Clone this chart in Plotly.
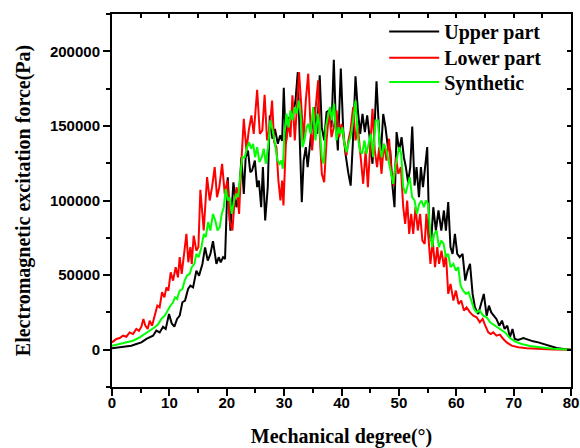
import plotly.graph_objects as go

# ---------------- data ----------------
upper_x = [0, 1.34, 2.5, 3.37, 4.24, 5.12, 6.0, 6.57, 7.15, 7.73,
           8.31, 8.9, 9.36, 9.94, 10.4, 10.87, 11.34, 11.8, 12.27, 12.73,
           13.26, 13.66, 14.13, 14.71, 15.17, 15.76, 16.22, 16.69, 17.15, 17.6,
           18.2, 18.6, 18.95, 19.36, 19.7, 20.17, 20.64, 21.16, 21.69, 22.15,
           22.56, 22.97, 23.3, 23.7, 24.1, 24.4, 24.9, 25.3, 25.6, 26.0,
           26.3, 26.7, 27.15, 27.5, 27.96, 28.4, 28.9, 29.3, 29.65, 29.94,
           30.3, 30.7, 31.1, 31.57, 31.98, 32.38, 32.73, 33.08, 33.4, 33.78,
           34.1, 34.5, 34.94, 35.35, 35.76, 36.2, 36.57, 36.98, 37.4, 37.85,
           38.26, 38.66, 39.0, 39.36, 39.88, 40.3, 40.7, 41.16, 41.6, 42.0,
           42.44, 42.85, 43.26, 43.66, 44.07, 44.48, 44.94, 45.4, 45.76, 46.1,
           46.45, 46.8, 47.27, 47.67, 48.08, 48.5, 48.9, 49.24, 49.6, 50.06,
           50.47, 50.87, 51.22, 51.6, 51.98, 52.33, 52.73, 53.08, 53.5, 53.84,
           54.2, 54.6, 54.94, 55.3, 55.64, 56.0, 56.45, 56.9, 57.4, 57.85,
           58.2, 58.6, 59.0, 59.36, 59.77, 60.17, 60.6, 61.1, 61.57, 61.98,
           62.4, 62.85, 63.26, 63.84, 64.36, 64.8, 65.3, 65.7, 66.1, 66.57,
           67.0, 67.5, 67.97, 68.43, 68.9, 69.36, 69.8, 70.2, 70.8, 71.7,
           72.56, 73.4, 74.3, 75.2, 76.3, 77.5, 78.7, 80]
upper_y = [900, 1600, 2200, 2700, 3800, 4900, 7200, 8300, 9400, 12800,
           11600, 15400, 13900, 23900, 17700, 15400, 20600, 22800, 31800, 32900,
           40700, 42900, 41800, 53000, 49600, 57500, 68600, 59700, 64200, 72700,
           57500, 62000, 58600, 62000, 60800, 115600, 79800, 112200, 95500, 104400,
           129000, 104400, 129000, 133500, 119000, 120000, 126800, 109000, 113400, 95500,
           122400, 86600, 109000, 157000, 141400, 148000, 138000, 143600, 140000, 175600,
           138000, 154800, 156000, 158000, 167000, 186000, 140000, 98900, 126800, 135800,
           122400, 136900, 153700, 162600, 144700, 183900, 149000, 140300, 159300, 160400,
           149000, 194400, 153700, 133500, 188400, 147000, 131300, 119000, 110000, 140300,
           183200, 160400, 144700, 158000, 145900, 157000, 142500, 124600, 149000, 179900,
           153700, 126800, 158000, 149000, 135800, 133500, 109000, 95500, 145900, 133500,
           142500, 129000, 122400, 112200, 122400, 149500, 110000, 122400, 102200, 122400,
           109000, 122400, 135800, 77600, 73100, 95500, 79800, 93300, 79800, 93300,
           79800, 98900, 68600, 64200, 77600, 64200, 62000, 64200, 46300, 53000,
           57500, 37400, 28400, 23900, 30600, 37400, 22800, 29500, 25000, 22800,
           20600, 16100, 19500, 13900, 16100, 8300, 13900, 7200, 6500, 7800,
           6500, 5600, 4900, 3800, 2200, 1100, 400, 0]

lower_x = [0, 0.76, 1.34, 1.92, 2.5, 3.08, 3.66, 4.24, 4.7, 5.12,
           5.47, 5.81, 6.22, 6.57, 6.98, 7.44, 7.9, 8.3, 8.72, 9.13,
           9.48, 9.83, 10.23, 10.64, 11.1, 11.5, 11.8, 12.15, 12.5, 12.97,
           13.3, 13.66, 13.9, 14.24, 14.7, 15.06, 15.4, 15.76, 15.99, 16.57,
           17.03, 17.44, 17.9, 18.31, 18.7, 19.19, 19.65, 20.1, 20.5, 20.99,
           21.4, 21.74, 22.15, 22.56, 22.97, 23.43, 23.84, 24.3, 24.7, 25.3,
           25.76, 26.2, 26.6, 27.03, 27.5, 27.9, 28.26, 28.66, 29.0, 29.36,
           29.65, 29.88, 30.3, 30.7, 31.1, 31.45, 31.86, 32.27, 32.6, 32.97,
           33.37, 33.78, 34.2, 34.53, 34.88, 35.35, 35.93, 36.2, 36.57, 36.98,
           37.4, 37.85, 38.26, 38.66, 39.13, 39.6, 40.0, 40.4, 40.87, 41.2,
           41.57, 42.03, 42.44, 42.85, 43.3, 43.78, 44.2, 44.6, 45.0, 45.4,
           45.8, 46.2, 46.57, 46.98, 47.38, 47.85, 48.3, 48.7, 49.1, 49.5,
           49.9, 50.35, 50.76, 51.1, 51.45, 51.8, 52.15, 52.5, 52.9, 53.3,
           53.7, 54.1, 54.5, 54.8, 55.2, 55.5, 55.9, 56.3, 56.7, 57.0,
           57.44, 57.85, 58.2, 58.6, 59.0, 59.5, 59.94, 60.4, 60.87, 61.34,
           61.8, 62.4, 62.97, 63.55, 64.1, 64.6, 65.06, 65.58, 66.0, 66.45,
           67.0, 67.6, 68.2, 68.8, 69.65, 70.8, 72.3, 74.6, 76.9, 80]
lower_y = [4900, 7200, 7800, 9400, 8700, 11600, 10500, 13900, 12700, 15400,
           20600, 16100, 13900, 19500, 16100, 23900, 29500, 28400, 38500, 35100,
           41800, 39600, 51900, 46300, 55300, 48500, 62000, 50800, 64200, 77600,
           58600, 68700, 57500, 76500, 66400, 68700, 107200, 91000, 79900, 115700,
           100000, 108900, 122400, 102200, 108900, 124600, 104500, 113400, 86600, 79900,
           102200, 108900, 91000, 126800, 154800, 133500, 147000, 157000, 144700, 174200,
           144700, 147000, 170800, 140300, 149000, 167000, 139000, 135800, 113400, 100000,
           113400, 96600, 138000, 151400, 142500, 170500, 140300, 164900, 186000, 164900,
           140300, 167000, 185000, 156000, 133500, 156000, 180500, 144700, 117900, 112300,
           140300, 160400, 142500, 149000, 160400, 142500, 151400, 140300, 130200, 140300,
           147000, 162600, 140300, 149000, 129000, 111200, 133500, 109000, 135800, 161500,
           133500, 122400, 135800, 117900, 138000, 126800, 141400, 117900, 110000, 129000,
           117900, 122400, 95500, 84300, 100000, 77600, 91000, 77600, 95500, 79900,
           91000, 73100, 70900, 91000, 73100, 57500, 73100, 55300, 68700, 57500,
           66400, 55300, 64200, 37400, 44100, 32900, 39600, 30600, 32900, 26200,
           28400, 25000, 22800, 21700, 18300, 20600, 16100, 11600, 10500, 11600,
           9400, 10100, 7200, 4900, 2700, 1600, 900, 400, 200, 0]

synth_x = [0, 1.34, 2.5, 3.66, 4.83, 5.7, 6.57, 7.44, 8.0, 8.6,
           9.2, 9.77, 10.17, 10.64, 11.0, 11.34, 11.8, 12.27, 12.67, 13.08,
           13.55, 13.9, 14.36, 14.7, 15.1, 15.58, 16.0, 16.34, 16.74, 17.15,
           17.6, 18.0, 18.4, 18.78, 19.13, 19.48, 19.83, 20.17, 20.5, 20.87,
           21.28, 21.69, 22.0, 22.38, 22.73, 23.14, 23.55, 23.9, 24.24, 24.6,
           24.94, 25.3, 25.7, 26.1, 26.45, 26.8, 27.2, 27.6, 28.0, 28.4,
           28.84, 29.2, 29.53, 29.77, 30.06, 30.4, 30.76, 31.1, 31.45, 31.8,
           32.15, 32.56, 32.9, 33.2, 33.55, 33.9, 34.24, 34.6, 35.06, 35.47,
           35.87, 36.2, 36.57, 36.9, 37.27, 37.6, 38.0, 38.3, 38.7, 39.13,
           39.5, 39.8, 40.17, 40.5, 40.87, 41.2, 41.57, 42.03, 42.44, 42.8,
           43.2, 43.6, 44.0, 44.36, 44.77, 45.1, 45.5, 45.93, 46.34, 46.7,
           47.0, 47.38, 47.85, 48.26, 48.66, 49.0, 49.36, 49.7, 50.06, 50.4,
           50.76, 51.16, 51.57, 51.9, 52.3, 52.73, 53.14, 53.55, 53.95, 54.36,
           54.7, 55.1, 55.47, 55.8, 56.16, 56.57, 56.98, 57.4, 57.8, 58.2,
           58.6, 59.0, 59.5, 59.94, 60.35, 60.76, 61.2, 61.7, 62.15, 62.6,
           63.1, 63.55, 64.1, 64.7, 65.3, 65.9, 66.7, 67.6, 68.5, 69.36,
           70.2, 71.4, 72.85, 74.6, 76.9, 80]
synth_y = [2700, 3800, 4900, 6000, 8300, 10500, 12300, 15000, 16800, 20600,
           22800, 27300, 29500, 31800, 35100, 34000, 39600, 40700, 46300, 49700,
           50800, 55300, 57500, 64200, 62000, 68700, 77600, 75400, 85500, 79900,
           91000, 86600, 79900, 82100, 91000, 95500, 107800, 100000, 102200, 91000,
           100000, 104500, 102200, 117900, 129000, 129000, 135800, 139100, 134700, 138000,
           129000, 135800, 125700, 129000, 134700, 124600, 135800, 153700, 147000, 138000,
           126800, 124600, 126800, 121300, 144700, 158200, 149000, 160400, 153700, 162600,
           158200, 167000, 156000, 135800, 140300, 149000, 151400, 144700, 162600, 140300,
           158200, 149000, 129000, 124600, 149000, 156000, 162600, 153700, 164900, 140300,
           149000, 144700, 149000, 138000, 132400, 138000, 142500, 153700, 167000, 144700,
           133500, 131300, 140300, 131300, 140300, 144700, 129000, 153700, 153700, 135800,
           129000, 138000, 133500, 124600, 117900, 111200, 122400, 129000, 135800, 131300,
           109000, 104500, 111200, 115700, 102200, 100000, 91000, 97700, 100000, 95500,
           100000, 97700, 77600, 68700, 77600, 79900, 68700, 73100, 70900, 62000,
           64200, 55300, 57500, 53000, 55300, 43000, 39600, 37400, 38500, 32900,
           27300, 25000, 26200, 22800, 21700, 18300, 16100, 13900, 11600, 7800,
           5600, 3800, 2500, 1600, 700, 0]

series_names = ["Upper part", "Lower part", "Synthetic"]
series_colors = ["#000000", "#ff0000", "#00ff00"]
x_title = "Mechanical degree(°)"
y_title = "Electromagnetic excitation force(Pa)"
x_range = [0, 80]
y_range = [-25000, 225000]

# ---------------- figure ----------------
serif = "Liberation Serif, Times New Roman, serif"
sans = "Liberation Sans, Arial, sans-serif"
legend_ids = ["legend", "legend2", "legend3"]
legend_y = [0.953, 0.883, 0.818]

fig = go.Figure()
for name, xs, ys, col, lg in zip(series_names,
                                 [upper_x, lower_x, synth_x],
                                 [upper_y, lower_y, synth_y],
                                 series_colors, legend_ids):
    fig.add_trace(go.Scatter(x=xs, y=ys, mode="lines", name=name, legend=lg,
                             line=dict(color=col, width=2)))

# empty trace to host the mirrored (top / right) axes
fig.add_trace(go.Scatter(x=[], y=[], xaxis="x2", yaxis="y2",
                         showlegend=False, hoverinfo="skip"))

axis_common = dict(showline=True, linewidth=2, linecolor="black",
                   showgrid=False, zeroline=False, mirror=False,
                   automargin=False)

legend_style = dict(x=0.593, xanchor="left", yanchor="middle",
                    bgcolor="rgba(0,0,0,0)", borderwidth=0, itemwidth=50,
                    font=dict(family=serif, size=20, color="black",
                              weight="bold"))

fig.update_layout(
    width=580, height=448,
    margin=dict(l=112, r=9, t=14, b=61, autoexpand=False),
    plot_bgcolor="white", paper_bgcolor="white",
    xaxis=dict(range=x_range, tick0=0, dtick=10, ticks="outside",
               ticklen=7, tickwidth=2, tickcolor="black",
               ticklabelstandoff=-6,
               tickfont=dict(family=sans, size=15, color="black", weight="bold"),
               minor=dict(dtick=5, ticks="outside", ticklen=4, tickwidth=2,
                          tickcolor="black"),
               title=dict(text=x_title, standoff=20,
                          font=dict(family=serif, size=20, color="black",
                                    weight="bold")),
               **axis_common),
    yaxis=dict(range=y_range, tick0=0, dtick=50000, ticks="outside",
               ticklen=7, tickwidth=2, tickcolor="black", tickformat="d",
               tickfont=dict(family=sans, size=15, color="black", weight="bold"),
               minor=dict(dtick=25000, ticks="outside", ticklen=4, tickwidth=2,
                          tickcolor="black"),
               title=dict(text=y_title, standoff=14,
                          font=dict(family=serif, size=20, color="black",
                                    weight="bold")),
               **axis_common),
    xaxis2=dict(range=x_range, overlaying="x", side="top", anchor="y",
                tick0=0, dtick=5, ticks="inside", ticklen=4, tickwidth=2,
                tickcolor="black", showticklabels=False, **axis_common),
    yaxis2=dict(range=y_range, overlaying="y", side="right", anchor="x",
                tick0=0, dtick=25000, ticks="inside", ticklen=4, tickwidth=2,
                tickcolor="black", showticklabels=False, **axis_common),
    legend=dict(y=legend_y[0], **legend_style),
    legend2=dict(y=legend_y[1], **legend_style),
    legend3=dict(y=legend_y[2], **legend_style),
    showlegend=True,
)

fig.write_html("out.html")
